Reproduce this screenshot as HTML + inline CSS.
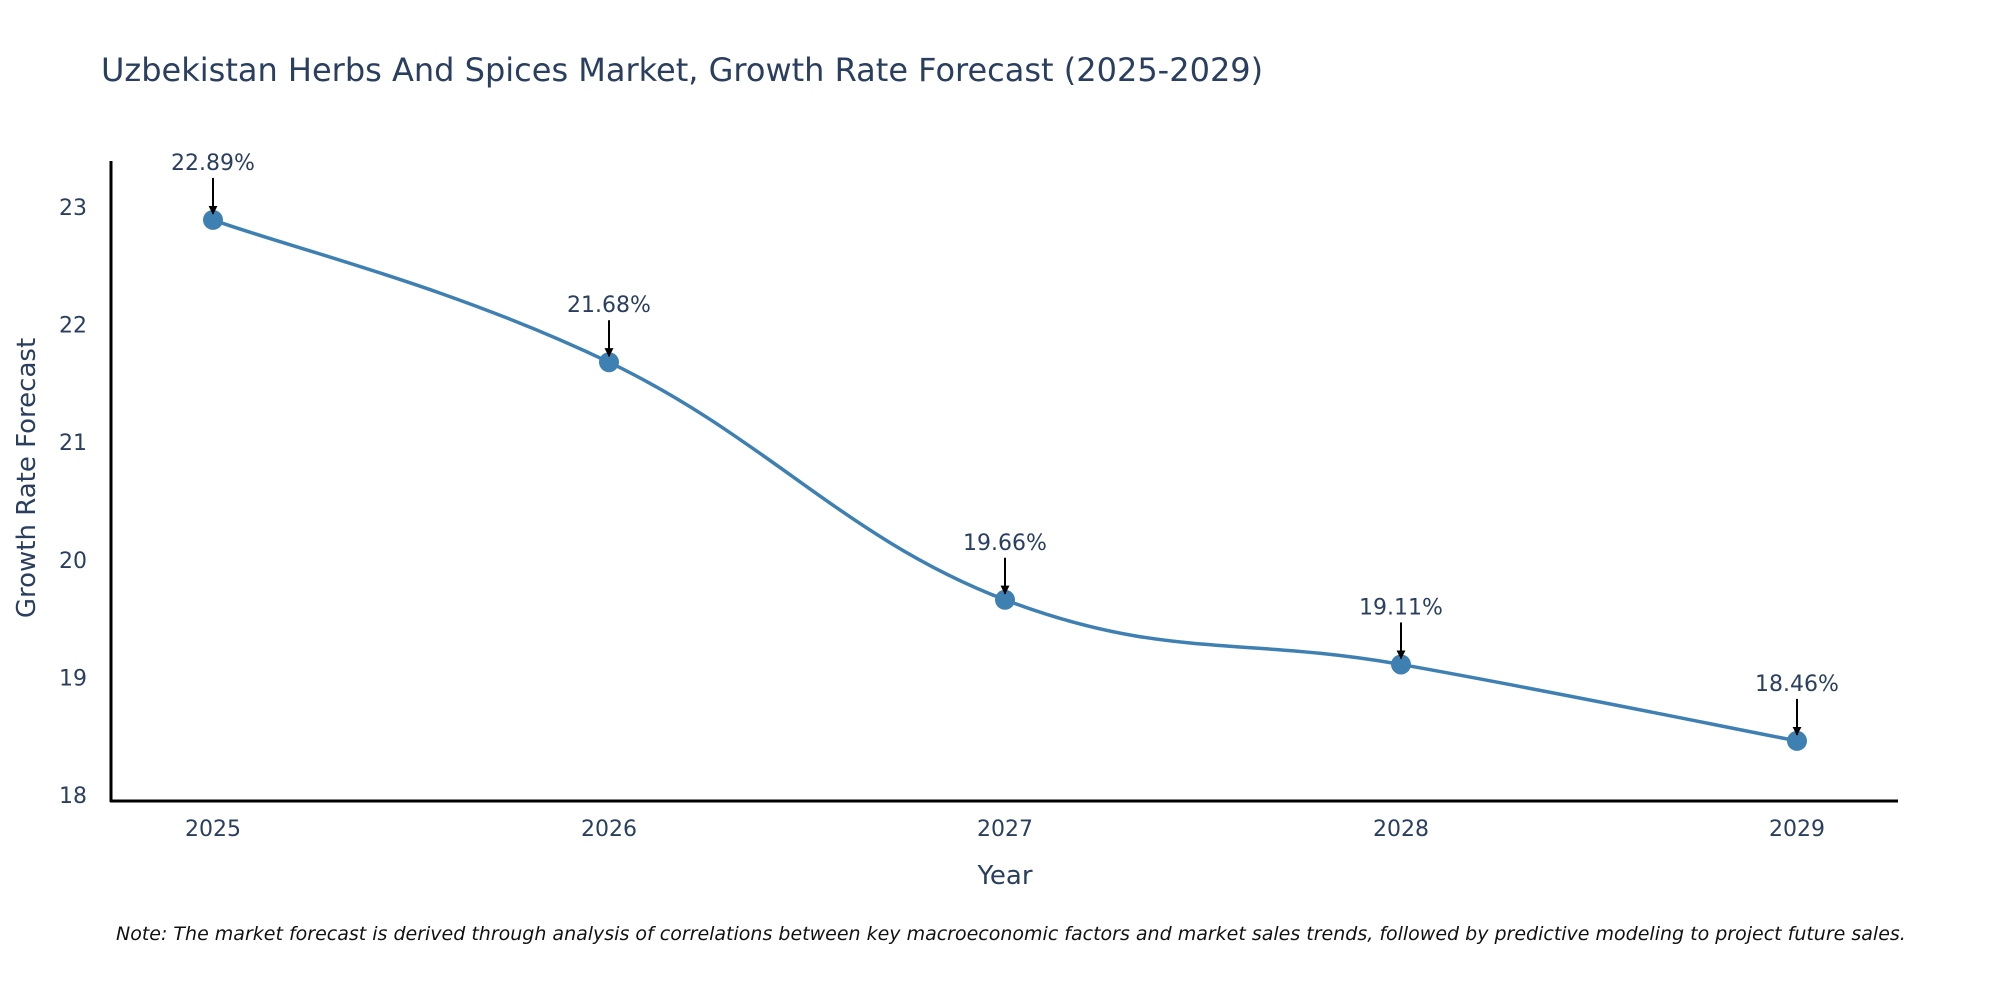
<!DOCTYPE html>
<html><head><meta charset="utf-8"><style>
body{margin:0;background:#fff;}
svg text{font-family:"DejaVu Sans","Liberation Sans",sans-serif;fill:#2a3f5f;}
</style></head><body>
<svg id="chart" width="2000" height="1000" xmlns="http://www.w3.org/2000/svg">
<defs><marker id="ah" viewBox="0 0 10 10" refX="9" refY="5" markerWidth="4.5" markerHeight="4.5" orient="auto"><path d="M0,0L10,5L0,10z" fill="#000"/></marker></defs>
<text x="101" y="81" font-size="32">Uzbekistan Herbs And Spices Market, Growth Rate Forecast (2025-2029)</text>
<g id="yticks"></g><g id="xticks"></g>
<line x1="111" y1="161" x2="111" y2="802" stroke="#000" stroke-width="3"/>
<line x1="110" y1="801" x2="1898" y2="801" stroke="#000" stroke-width="3"/>
<path id="line" fill="none" stroke="#3f80b3" stroke-width="3.5"/>
<g id="pts"></g>
<text x="1005" y="884" font-size="26" text-anchor="middle">Year</text>
<text transform="translate(35,478) rotate(-90)" font-size="26" text-anchor="middle">Growth Rate Forecast</text>
<text x="116" y="940" font-size="19" font-style="italic" style="fill:#111">Note: The market forecast is derived through analysis of correlations between key macroeconomic factors and market sales trends, followed by predictive modeling to project future sales.</text>
</svg>
<script>
const years=[2025,2026,2027,2028,2029];
const values=[22.89,21.68,19.66,19.11,18.46];
const labels=["22.89%","21.68%","19.66%","19.11%","18.46%"];
const yTicks=[18,19,20,21,22,23];
const NS="http://www.w3.org/2000/svg";
function xs(i){return 213+i*396;}
function ys(v){return 795-(v-18)*117.6;}
function mk(t,a,p){const e=document.createElementNS(NS,t);for(const k in a)e.setAttribute(k,a[k]);(p||document.getElementById('chart')).appendChild(e);return e;}
const yg=document.getElementById('yticks'),xg=document.getElementById('xticks');
yTicks.forEach(t=>{const e=mk('text',{x:87,y:ys(t)+8,'font-size':22,'text-anchor':'end'},yg);e.textContent=t;

});
years.forEach((y,i)=>{const e=mk('text',{x:xs(i),y:836,'font-size':22,'text-anchor':'middle'},xg);e.textContent=y;

});
const P=values.map((v,i)=>[xs(i),ys(v)]);
let d='M'+P[0][0]+','+P[0][1];const s=0.2;
for(let i=0;i<P.length-1;i++){const p0=P[Math.max(0,i-1)],p1=P[i],p2=P[i+1],p3=P[Math.min(P.length-1,i+2)];
const c1=[p1[0]+(p2[0]-p0[0])*s,p1[1]+(p2[1]-p0[1])*s],c2=[p2[0]-(p3[0]-p1[0])*s,p2[1]-(p3[1]-p1[1])*s];
d+=' C'+c1+' '+c2+' '+p2;}
document.getElementById('line').setAttribute('d',d);
const pg=document.getElementById('pts');
P.forEach((p,i)=>{const c=mk('circle',{cx:p[0],cy:p[1],r:10,fill:'#3f80b3'},pg);


const a=mk('line',{x1:p[0],y1:p[1]-42,x2:p[0],y2:p[1]-6,stroke:'#000','stroke-width':2,'marker-end':'url(#ah)'},pg);


const t=mk('text',{x:p[0],y:p[1]-50,'font-size':22,'text-anchor':'middle'},pg);t.textContent=labels[i];

});
</script>
</body></html>
